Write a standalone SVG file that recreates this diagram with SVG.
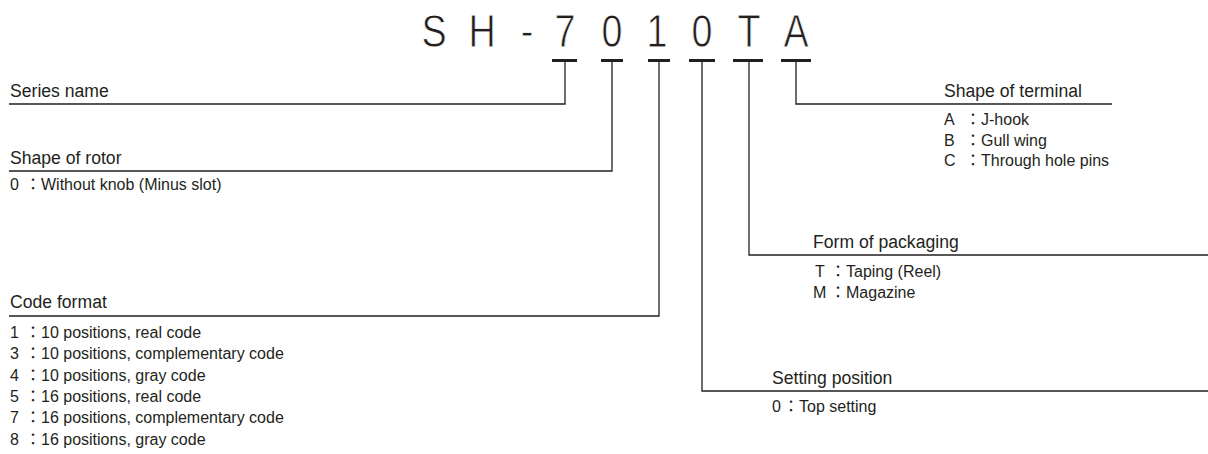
<svg xmlns="http://www.w3.org/2000/svg" width="1208" height="454" viewBox="0 0 1208 454">
<style>
.t{font-family:"Liberation Sans","Noto Sans CJK JP",sans-serif;fill:#231f20}
.h{font-size:17.6px}
.i{font-size:16px}
.big{font-size:46px;text-anchor:middle;stroke:#fff;stroke-width:0.8}
.ln{stroke:#231f20;stroke-width:1.3;fill:none}
.bar{stroke:#231f20;stroke-width:3}
</style>
<rect width="1208" height="454" fill="#fff"/>
<g id="title">
<text class="t big" transform="translate(434,47) scale(0.82,1)">S</text>
<text class="t big" transform="translate(482,47) scale(0.82,1)">H</text>
<text class="t big" transform="translate(527,47) scale(0.82,1)">-</text>
<text class="t big" transform="translate(565,47) scale(0.82,1)">7</text>
<text class="t big" transform="translate(612,47) scale(0.82,1)">0</text>
<text class="t big" transform="translate(657,47) scale(0.82,1)">1</text>
<text class="t big" transform="translate(702,47) scale(0.82,1)">0</text>
<text class="t big" transform="translate(749,47) scale(0.82,1)">T</text>
<text class="t big" transform="translate(796,47) scale(0.82,1)">A</text>
</g>
<g id="connectors">
<line class="bar" x1="552" y1="60.5" x2="577" y2="60.5"/>
<line class="bar" x1="601" y1="60.5" x2="623" y2="60.5"/>
<line class="bar" x1="648" y1="60.5" x2="670" y2="60.5"/>
<line class="bar" x1="689" y1="60.5" x2="715" y2="60.5"/>
<line class="bar" x1="733" y1="60.5" x2="763" y2="60.5"/>
<line class="bar" x1="781" y1="60.5" x2="811" y2="60.5"/>
<polyline class="ln" points="565,62 565,104 9,104"/>
<polyline class="ln" points="612,62 612,171 9,171"/>
<polyline class="ln" points="659,62 659,316 9,316"/>
<polyline class="ln" points="702,62 702,391 1208,391"/>
<polyline class="ln" points="749,62 749,255 1208,255"/>
<polyline class="ln" points="796,62 796,104 1112,104"/>
</g>
<g id="series">
<text class="t h" x="10" y="97">Series name</text>
</g>
<g id="rotor">
<text class="t h" x="10" y="164">Shape of rotor</text>
<text class="t i" y="190"><tspan x="10">0</tspan><tspan x="25">：Without knob (Minus slot)</tspan></text>
</g>
<g id="code">
<text class="t h" x="10" y="308">Code format</text>
<text class="t i" y="338"><tspan x="10">1</tspan><tspan x="25">：10 positions, real code</tspan></text>
<text class="t i" y="359.3"><tspan x="10">3</tspan><tspan x="25">：10 positions, complementary code</tspan></text>
<text class="t i" y="380.6"><tspan x="10">4</tspan><tspan x="25">：10 positions, gray code</tspan></text>
<text class="t i" y="401.9"><tspan x="10">5</tspan><tspan x="25">：16 positions, real code</tspan></text>
<text class="t i" y="423.2"><tspan x="10">7</tspan><tspan x="25">：16 positions, complementary code</tspan></text>
<text class="t i" y="444.5"><tspan x="10">8</tspan><tspan x="25">：16 positions, gray code</tspan></text>
</g>
<g id="terminal">
<text class="t h" x="944" y="97">Shape of terminal</text>
<text class="t i" y="125"><tspan x="944">A</tspan><tspan x="965">：J-hook</tspan></text>
<text class="t i" y="145.5"><tspan x="944">B</tspan><tspan x="965">：Gull wing</tspan></text>
<text class="t i" y="166"><tspan x="944">C</tspan><tspan x="965">：Through hole pins</tspan></text>
</g>
<g id="packaging">
<text class="t h" x="813" y="248">Form of packaging</text>
<text class="t i" y="277"><tspan x="815">T</tspan><tspan x="830">：Taping (Reel)</tspan></text>
<text class="t i" y="298"><tspan x="813">M</tspan><tspan x="830">：Magazine</tspan></text>
</g>
<g id="setting">
<text class="t h" x="772" y="384">Setting position</text>
<text class="t i" y="412"><tspan x="772">0</tspan><tspan x="783">：Top setting</tspan></text>
</g>
</svg>
